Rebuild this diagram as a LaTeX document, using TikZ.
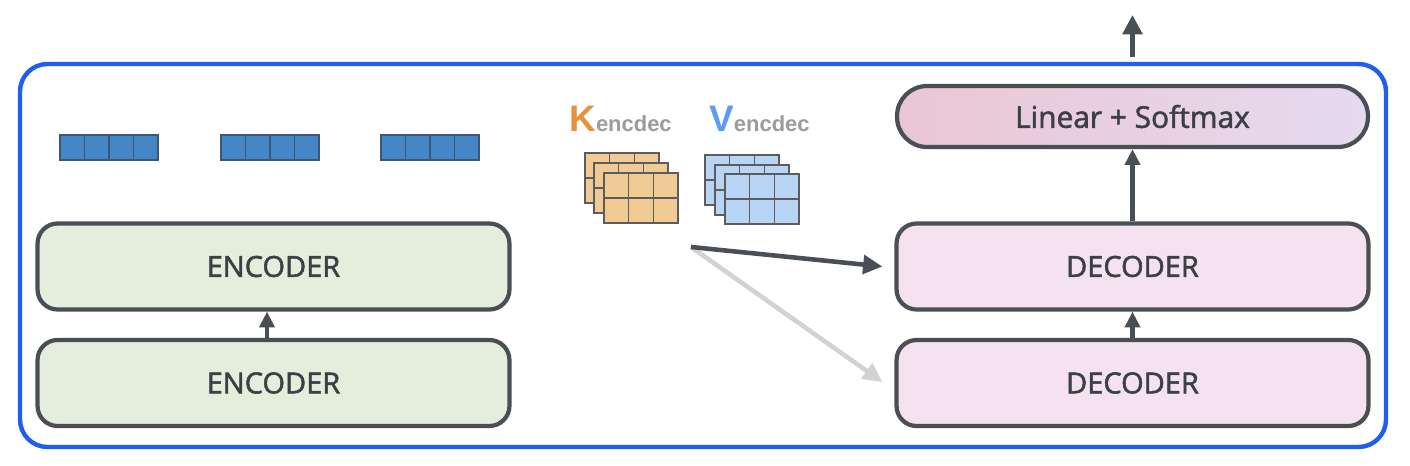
\documentclass[tikz,border=0pt]{standalone}
\usepackage{fontspec}
\setmainfont{Open Sans}
\newfontfamily\semifont[FakeBold=1.8]{Open Sans}
\newfontfamily\arialf{Liberation Sans}
\usetikzlibrary{arrows.meta,calc}
\definecolor{frameblue}{HTML}{1F5EEE}
\definecolor{edge}{HTML}{4A4F55}
\definecolor{txt}{HTML}{3C4045}
\definecolor{encfill}{HTML}{E5EEDD}
\definecolor{decfill}{HTML}{F4E3EE}
\definecolor{linl}{HTML}{EAC6D3}
\definecolor{linr}{HTML}{E6DAF0}
\definecolor{vecfill}{HTML}{4586C7}
\definecolor{vecedge}{HTML}{3A5778}
\definecolor{kfill}{HTML}{F1CB96}
\definecolor{vfill}{HTML}{B8D5F5}
\definecolor{gridedge}{HTML}{5C5C5C}
\definecolor{korange}{HTML}{E8913A}
\definecolor{vblue}{HTML}{5B9DF1}
\definecolor{subgray}{HTML}{9C9C9C}
\definecolor{lightarrow}{HTML}{D2D2D2}
\newcommand\kvgrid[3]{%
  \draw[draw=gridedge,line width=0.9pt,fill=#3] (#1,#2) rectangle ++(74,50);
  \draw[draw=gridedge,line width=0.9pt] (#1+24.67,#2) -- ++(0,50) (#1+49.33,#2) -- ++(0,50) (#1,#2+25) -- ++(74,0);}
\newcommand\vecrow[2]{%
  \draw[draw=vecedge,line width=0.9pt,fill=vecfill] (#1,#2) rectangle ++(98,25);
  \foreach \i in {1,2,3}{\draw[draw=vecedge,line width=0.9pt] (#1+24.5*\i,#2) -- ++(0,25);}}
\begin{document}
\begin{tikzpicture}[x=0.02cm,y=-0.02cm,
  blockbox/.style={draw=edge,line width=2.4pt,rounded corners=0.4cm,minimum width=9.44cm,minimum height=1.72cm,text=txt,font=\semifont\fontsize{16.5}{18}\selectfont,inner sep=0pt},
  encbox/.style={blockbox,fill=encfill},
  decbox/.style={blockbox,fill=decfill},
  uparrow/.style={draw=edge,line width=2.6pt,-{Triangle[length=9pt,width=8.5pt]}},
  kvarrow/.style={line width=2.6pt,-{Triangle[length=11pt,width=10.5pt]}}]
\useasboundingbox[fill=white] (0,0) rectangle (1410,466);
% outer frame
\draw[frameblue,line width=2.5pt,rounded corners=0.55cm] (20,64) rectangle (1386,447);
% encoders
\node[encbox] (enc1) at (273.5,266.5) {ENCODER};
\node[encbox] (enc2) at (273.5,383) {ENCODER};
% decoders
\node[decbox] (dec1) at (1132.5,266.5) {DECODER};
\node[decbox] (dec2) at (1132.5,383) {DECODER};
% linear
\node[draw=edge,line width=2.4pt,rounded corners=0.6cm,minimum width=9.42cm,minimum height=1.22cm,left color=linl,right color=linr,text=txt,font=\semifont\fontsize{17}{19}\selectfont,inner sep=0pt] (lin) at (1132.5,116.5) {Linear + Softmax};
% vertical arrows
\draw[uparrow] ($(enc2.north)+(-6.5,0)$) -- ($(enc1.south)+(-6.5,0)$);
\draw[uparrow] (dec2.north) -- (dec1.south);
\draw[uparrow] (dec1.north) -- (lin.south);
\coordinate (out0) at (1132.5,57);
\coordinate (out1) at (1132.5,15);
\draw[draw=edge,line width=2.6pt,-{Triangle[length=11pt,width=11pt]}] (out0) -- (out1);
% encoder output vectors
\vecrow{60}{135}
\vecrow{221}{135}
\vecrow{381}{135}
% K and V
\node[anchor=base west,inner sep=0pt] (klab) at (569,132) {\arialf\bfseries\fontsize{21}{21}\selectfont\textcolor{korange}{K}\fontsize{12.5}{13}\selectfont\textcolor{subgray}{encdec}};
\node[anchor=base west,inner sep=0pt] (vlab) at (709,132) {\arialf\bfseries\fontsize{21}{21}\selectfont\textcolor{vblue}{V}\fontsize{12.5}{13}\selectfont\textcolor{subgray}{encdec}};
\kvgrid{585}{153}{kfill}
\kvgrid{594}{163}{kfill}
\kvgrid{604}{173}{kfill}
\kvgrid{705}{155}{vfill}
\kvgrid{715}{165}{vfill}
\kvgrid{725}{174}{vfill}
% K/V arrows
\coordinate (src) at (691,247);
\draw[kvarrow,draw=lightarrow] (src) -- ($(dec2.west)+(-12,-1)$);
\draw[kvarrow,draw=edge] (src) -- ($(dec1.west)+(-12,0)$);
\end{tikzpicture}
\end{document}
